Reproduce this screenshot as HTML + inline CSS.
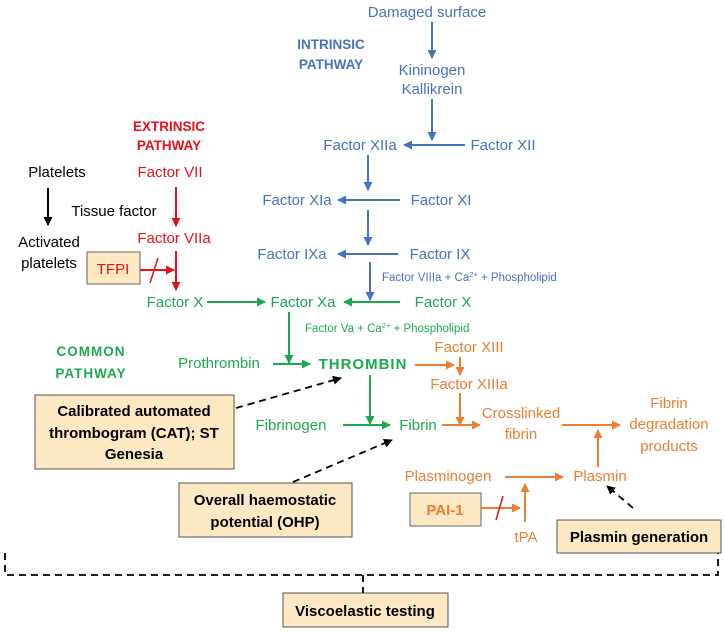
<!DOCTYPE html>
<html><head><meta charset="utf-8"><style>
html,body{margin:0;padding:0;background:#fff;}
svg{display:block;font-family:"Liberation Sans",sans-serif;}
.b{fill:#4472C4}.r{fill:#E8101A}.g{fill:#1CA84E}.o{fill:#ED7D31}.k{fill:#000}
</style></head><body>
<svg width="725" height="633" viewBox="0 0 725 633">
<defs>
<marker id="mb" markerWidth="9" markerHeight="9" refX="8" refY="4.5" orient="auto" markerUnits="userSpaceOnUse"><path d="M0,0 L9,4.5 L0,9 z" fill="#4472C4"/></marker>
<marker id="mr" markerWidth="9" markerHeight="9" refX="8" refY="4.5" orient="auto" markerUnits="userSpaceOnUse"><path d="M0,0 L9,4.5 L0,9 z" fill="#E8101A"/></marker>
<marker id="mg" markerWidth="9" markerHeight="9" refX="8" refY="4.5" orient="auto" markerUnits="userSpaceOnUse"><path d="M0,0 L9,4.5 L0,9 z" fill="#1CA84E"/></marker>
<marker id="mo" markerWidth="9" markerHeight="9" refX="8" refY="4.5" orient="auto" markerUnits="userSpaceOnUse"><path d="M0,0 L9,4.5 L0,9 z" fill="#ED7D31"/></marker>
<marker id="mk" markerWidth="9" markerHeight="9" refX="8" refY="4.5" orient="auto" markerUnits="userSpaceOnUse"><path d="M0,0 L9,4.5 L0,9 z" fill="#000"/></marker>
</defs>
<g font-size="15" text-anchor="middle">
<text class="b" x="427" y="17">Damaged surface</text>
<text class="b" x="331" y="49" font-weight="bold" font-size="13.5">INTRINSIC</text>
<text class="b" x="331" y="69" font-weight="bold" font-size="13.5">PATHWAY</text>
<text class="b" x="432" y="75">Kininogen</text>
<text class="b" x="432" y="94">Kallikrein</text>
<text class="b" x="360" y="150">Factor XIIa</text>
<text class="b" x="503" y="150">Factor XII</text>
<text class="b" x="297" y="205">Factor XIa</text>
<text class="b" x="441" y="205">Factor XI</text>
<text class="b" x="292" y="259">Factor IXa</text>
<text class="b" x="440" y="259">Factor IX</text>
<text class="b" x="382" y="281" font-size="11.5" text-anchor="start">Factor VIIIa + Ca<tspan font-size="7.5" dy="-4">2+</tspan><tspan dy="4"> + Phospholipid</tspan></text>
<g stroke="#4472C4" stroke-width="2" fill="none">
<line x1="432" y1="22" x2="432" y2="58" marker-end="url(#mb)"/>
<line x1="432" y1="99" x2="432" y2="140" marker-end="url(#mb)"/>
<line x1="465" y1="145" x2="404" y2="145" marker-end="url(#mb)"/>
<line x1="368" y1="155" x2="368" y2="190" marker-end="url(#mb)"/>
<line x1="400" y1="200" x2="338" y2="200" marker-end="url(#mb)"/>
<line x1="368" y1="210" x2="368" y2="245" marker-end="url(#mb)"/>
<line x1="398" y1="254" x2="338" y2="254" marker-end="url(#mb)"/>
<line x1="370" y1="262" x2="370" y2="300" marker-end="url(#mb)"/>
</g>
<text class="r" x="169" y="131" font-weight="bold" font-size="13.5">EXTRINSIC</text>
<text class="r" x="169" y="150" font-weight="bold" font-size="13.5">PATHWAY</text>
<text class="r" x="170" y="177">Factor VII</text>
<text class="r" x="174" y="243">Factor VIIa</text>
<rect x="87" y="252" width="53" height="32" fill="#FCE8C2" stroke="#666" stroke-width="1"/>
<text class="r" x="113" y="274">TFPI</text>
<g stroke="#E8101A" stroke-width="2" fill="none">
<line x1="176" y1="187" x2="176" y2="226" marker-end="url(#mr)"/>
<line x1="176" y1="251" x2="176" y2="290" marker-end="url(#mr)"/>
<line x1="140" y1="270" x2="174" y2="270" marker-end="url(#mr)"/>
<line x1="150" y1="283" x2="158" y2="258" stroke-width="1.5"/>
</g>
<text class="k" x="57" y="177">Platelets</text>
<text class="k" x="114" y="216">Tissue factor</text>
<text class="k" x="49" y="247">Activated</text>
<text class="k" x="49" y="268">platelets</text>
<line x1="48" y1="188" x2="48" y2="225" stroke="#000" stroke-width="2" marker-end="url(#mk)"/>
<text class="g" x="175" y="307">Factor X</text>
<text class="g" x="303" y="307">Factor Xa</text>
<text class="g" x="443" y="307">Factor X</text>
<text class="g" x="305" y="332" font-size="11.5" text-anchor="start">Factor Va + Ca<tspan font-size="7.5" dy="-4">2+</tspan><tspan dy="4"> + Phospholipid</tspan></text>
<text class="g" x="91" y="356" font-weight="bold" font-size="13.5" letter-spacing="1">COMMON</text>
<text class="g" x="91" y="378" font-weight="bold" font-size="13.5" letter-spacing="1">PATHWAY</text>
<text class="g" x="219" y="368">Prothrombin</text>
<text class="g" x="363" y="369" font-weight="bold" letter-spacing="1">THROMBIN</text>
<text class="g" x="291" y="430">Fibrinogen</text>
<text class="g" x="418" y="430">Fibrin</text>
<g stroke="#1CA84E" stroke-width="2" fill="none">
<line x1="207" y1="302" x2="265" y2="302" marker-end="url(#mg)"/>
<line x1="400" y1="302" x2="344" y2="302" marker-end="url(#mg)"/>
<line x1="289" y1="312" x2="289" y2="363" marker-end="url(#mg)"/>
<line x1="273" y1="364" x2="310" y2="364" marker-end="url(#mg)"/>
<line x1="370" y1="375" x2="370" y2="424" marker-end="url(#mg)"/>
<line x1="343" y1="425" x2="390" y2="425" marker-end="url(#mg)"/>
</g>
<text class="o" x="469" y="352">Factor XIII</text>
<text class="o" x="469" y="389">Factor XIIIa</text>
<text class="o" x="521" y="418">Crosslinked</text>
<text class="o" x="521" y="439">fibrin</text>
<text class="o" x="669" y="408">Fibrin</text>
<text class="o" x="669" y="429">degradation</text>
<text class="o" x="669" y="451">products</text>
<text class="o" x="448" y="481">Plasminogen</text>
<text class="o" x="600" y="481">Plasmin</text>
<text class="o" x="526" y="542">tPA</text>
<rect x="410" y="493" width="71" height="33" fill="#FCE8C2" stroke="#666" stroke-width="1"/>
<text class="o" x="445" y="515" font-weight="bold">PAI-1</text>
<g stroke="#ED7D31" stroke-width="2" fill="none">
<line x1="415" y1="365" x2="454" y2="365" marker-end="url(#mo)"/>
<line x1="460" y1="357" x2="460" y2="375" marker-end="url(#mo)"/>
<line x1="460" y1="393" x2="460" y2="425" marker-end="url(#mo)"/>
<line x1="442" y1="425" x2="480" y2="425" marker-end="url(#mo)"/>
<line x1="562" y1="425" x2="620" y2="425" marker-end="url(#mo)"/>
<line x1="598" y1="467" x2="598" y2="430" marker-end="url(#mo)"/>
<line x1="505" y1="477" x2="563" y2="477" marker-end="url(#mo)"/>
<line x1="481" y1="508" x2="520" y2="508" marker-end="url(#mo)"/>
<line x1="525" y1="522" x2="525" y2="484" marker-end="url(#mo)"/>
</g>
<line x1="496" y1="520" x2="503" y2="496" stroke="#E8101A" stroke-width="1.5"/>
<g fill="#FCE8C2" stroke="#555" stroke-width="1">
<rect x="35" y="395" width="199" height="74"/>
<rect x="179" y="483" width="173" height="54"/>
<rect x="557" y="520" width="164" height="33"/>
<rect x="283" y="593" width="165" height="34"/>
</g>
<g class="k" font-weight="bold" font-size="15">
<text x="134" y="416">Calibrated automated</text>
<text x="134" y="438">thrombogram (CAT); ST</text>
<text x="134" y="459">Genesia</text>
<text x="265" y="505">Overall haemostatic</text>
<text x="265" y="527">potential (OHP)</text>
<text x="639" y="542">Plasmin generation</text>
<text x="365" y="616">Viscoelastic testing</text>
</g>
<g stroke="#000" stroke-width="1.8" stroke-dasharray="7,5" fill="none">
<line x1="236" y1="408" x2="341" y2="378" marker-end="url(#mk)"/>
<line x1="293" y1="482" x2="392" y2="440" marker-end="url(#mk)"/>
<line x1="633" y1="508" x2="607" y2="486" marker-end="url(#mk)"/>
<path d="M5,553 V575 H718 V553"/>
<path d="M363,575 V593"/>
</g>
</g>
</svg>
</body></html>
